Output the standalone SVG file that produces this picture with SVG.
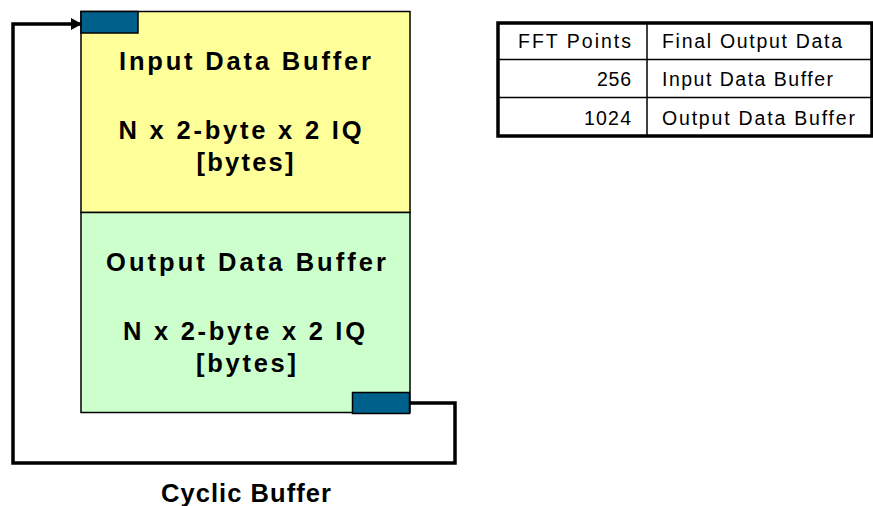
<svg xmlns="http://www.w3.org/2000/svg" width="873" height="506" viewBox="0 0 873 506">
<defs>
<style>
.t{font-family:"Liberation Sans",Arial,sans-serif;font-weight:bold;font-size:25.5px;fill:#000}
.c{font-family:"Liberation Sans",Arial,sans-serif;font-size:19.5px;fill:#000}
.conn{fill:none;stroke:#000;stroke-width:3.5}
.ptr{fill:#00608C;stroke:#000;stroke-width:1.5}
</style>
<marker id="ah" markerWidth="11" markerHeight="12" refX="11" refY="6" orient="auto" markerUnits="userSpaceOnUse">
<path d="M0,0 L11,6 L0,12 Z" fill="#000"/>
</marker>
</defs>
<rect width="873" height="506" fill="#fff"/>
<g id="connectors">
<path class="conn" d="M410,403 H455 V463 H13 V24 H82" marker-end="url(#ah)"/>
</g>
<g id="input-buffer">
<rect x="81" y="11.5" width="329" height="201" fill="#FFFF99" stroke="#000" stroke-width="1.5"/>
<text class="t" x="245" y="70" text-anchor="middle" textLength="252" lengthAdjust="spacing">Input Data Buffer</text>
<text class="t" x="240" y="138.5" text-anchor="middle" textLength="243" lengthAdjust="spacing">N x 2-byte x 2 IQ</text>
<text class="t" x="245" y="171" text-anchor="middle" textLength="97" lengthAdjust="spacing">[bytes]</text>
</g>
<g id="output-buffer">
<rect x="81" y="212.5" width="329" height="200" fill="#CCFFCC" stroke="#000" stroke-width="1.5"/>
<text class="t" x="246" y="271" text-anchor="middle" textLength="280" lengthAdjust="spacing">Output Data Buffer</text>
<text class="t" x="244" y="340" text-anchor="middle" textLength="242" lengthAdjust="spacing">N x 2-byte x 2 IQ</text>
<text class="t" x="246" y="372" text-anchor="middle" textLength="100" lengthAdjust="spacing">[bytes]</text>
</g>
<g id="read-pointer">
<rect class="ptr" x="81" y="11.5" width="57" height="21.5"/>
</g>
<g id="write-pointer">
<rect class="ptr" x="352.5" y="392.5" width="57" height="21"/>
</g>
<g id="cyclic-label">
<text class="t" x="246" y="502" text-anchor="middle" textLength="170" lengthAdjust="spacing">Cyclic Buffer</text>
</g>
<g id="table">
<rect x="498" y="23" width="374" height="113" fill="#fff" stroke="#000" stroke-width="3.5"/>
<line x1="498" y1="59.5" x2="872" y2="59.5" stroke="#000" stroke-width="1.5"/>
<line x1="498" y1="97.5" x2="872" y2="97.5" stroke="#000" stroke-width="1.5"/>
<line x1="647" y1="23" x2="647" y2="136" stroke="#000" stroke-width="1.5"/>
<text class="c" x="631" y="48" text-anchor="end" textLength="113" lengthAdjust="spacing">FFT Points</text>
<text class="c" x="662" y="48" textLength="180" lengthAdjust="spacing">Final Output Data</text>
<text class="c" x="631" y="86" text-anchor="end" textLength="34" lengthAdjust="spacing">256</text>
<text class="c" x="662" y="86" textLength="171" lengthAdjust="spacing">Input Data Buffer</text>
<text class="c" x="631" y="125" text-anchor="end" textLength="47" lengthAdjust="spacing">1024</text>
<text class="c" x="662" y="125" textLength="193" lengthAdjust="spacing">Output Data Buffer</text>
</g>
</svg>
